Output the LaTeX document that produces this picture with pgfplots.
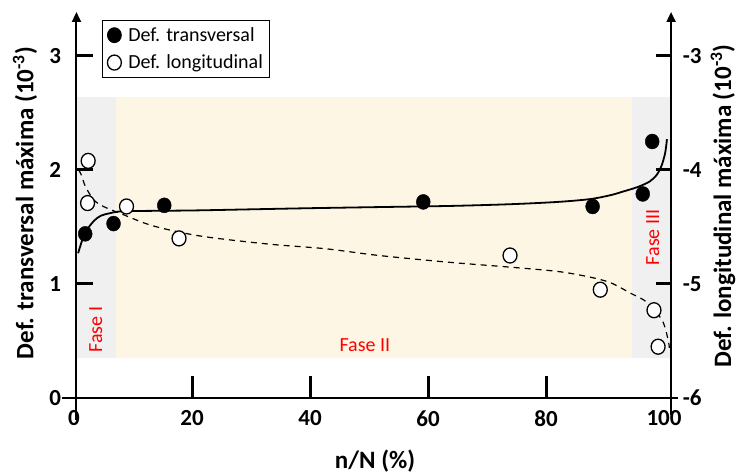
\documentclass[border=0pt]{standalone}
\usepackage{fontspec}
\setmainfont{Carlito}
\usepackage{pgfplots}
\pgfplotsset{compat=1.18}
\usetikzlibrary{arrows.meta}
\definecolor{bggray}{RGB}{240,240,240}
\definecolor{bgyel}{RGB}{253,246,228}
\definecolor{fasered}{RGB}{255,0,0}
\begin{document}
\begin{tikzpicture}[x=1pt,y=1pt]
\useasboundingbox (0,0) rectangle (739,474);
\begin{axis}[
  at={(62.2pt,64.6pt)}, anchor=south west,
  width=619.5pt, height=404.7pt, scale only axis,
  xmin=-2, xmax=103, ymin=-0.1, ymax=3.45,
  clip=false,
  axis line style={draw=none}, tick style={draw=none}, major tick length=0pt,
  xtick={0,20,40,60,80,100}, xticklabels={0,20,40,60,80,100},
  ytick={0,1,2,3}, yticklabels={0,1,2,3},
  tick label style={font=\fontsize{23}{23}\selectfont\bfseries, inner sep=1pt},
  legend style={at={(axis cs:4.75,3.315)}, anchor=north west, draw=black, line width=0.8pt,
     fill=white, font=\fontsize{20}{24}\selectfont, inner xsep=5pt, inner ysep=5.5pt,
     nodes={inner xsep=1pt, inner ysep=1.5pt}, row sep=9pt, column sep=6pt},
  legend cell align=left,
  legend image code/.code={\draw[#1] plot coordinates {(0pt,0pt)};},
]
% background phases
\addplot[draw=none, fill=bggray, forget plot] coordinates {(0.42,0.35) (7.1,0.35) (7.1,2.64) (0.42,2.64) (0.42,0.35)};
\addplot[draw=none, fill=bgyel, forget plot] coordinates {(7.1,0.35) (94.6,0.35) (94.6,2.64) (7.1,2.64) (7.1,0.35)};
\addplot[draw=none, fill=bggray, forget plot] coordinates {(94.6,0.35) (101.2,0.35) (101.2,2.64) (94.6,2.64) (94.6,0.35)};
% axis lines
\draw[line width=2pt, -{Triangle[length=10pt,width=9pt]}] (axis cs:0.42,-0.19) -- (axis cs:0.42,3.386);
\draw[line width=2pt, -{Triangle[length=10pt,width=9pt]}] (axis cs:101.2,-0.15) -- (axis cs:101.2,3.386);
\draw[line width=2pt] (axis cs:-2,0) -- (axis cs:102.4,0);
% ticks
\draw[line width=3pt] (axis cs:0.42,1) -- (axis cs:3.3,1);
\draw[line width=3pt] (axis cs:0.42,2) -- (axis cs:3.3,2);
\draw[line width=3pt] (axis cs:0.42,3) -- (axis cs:3.3,3);
\draw[line width=3pt] (axis cs:101.2,1) -- (axis cs:98.7,1);
\draw[line width=3pt] (axis cs:101.2,2) -- (axis cs:98.7,2);
\draw[line width=3pt] (axis cs:101.2,3) -- (axis cs:98.7,3);
\draw[line width=3pt] (axis cs:20,0) -- (axis cs:20,0.19);
\draw[line width=3pt] (axis cs:40,0) -- (axis cs:40,0.19);
\draw[line width=3pt] (axis cs:60,0) -- (axis cs:60,0.19);
\draw[line width=3pt] (axis cs:80,0) -- (axis cs:80,0.19);
% phase labels
\node[text=fasered, rotate=90, font=\fontsize{20}{20}\selectfont] at (axis cs:3.7,0.6) {Fase I};
\node[text=fasered, font=\fontsize{20}{20}\selectfont] at (axis cs:49.3,0.46) {Fase II};
\node[text=fasered, rotate=90, font=\fontsize{20}{20}\selectfont] at (axis cs:98.1,1.41) {Fase III};
% transversal fit
\addplot[black, line width=1.8pt, smooth, tension=0.5, forget plot] coordinates {
 (0.7,1.27) (1.5,1.40) (2.4,1.49) (3.5,1.56) (4.6,1.60) (6,1.62) (7.5,1.635) (10,1.64)
 (20,1.645) (30,1.655) (40,1.665) (52,1.675) (64,1.685) (74,1.70) (82,1.72) (87.5,1.745)
 (91,1.78) (93,1.81) (95.5,1.85) (97.6,1.90) (98.8,1.96) (99.6,2.04) (100.2,2.15) (100.5,2.27)};
% transversal points
\addplot[only marks, mark=*, mark size=7.5pt, mark options={xscale=0.93, fill=black, draw=black}] coordinates {
 (1.9,1.44) (6.7,1.53) (15.3,1.69) (59.2,1.72) (87.9,1.68) (96.4,1.79) (98,2.25)};
\addlegendentry{Def. transversal}
\addlegendimage{only marks, mark=*, mark size=7.5pt, mark options={xscale=0.93, fill=white, draw=black, line width=1.3pt}}
\addlegendentry{Def. longitudinal}
\end{axis}
\begin{axis}[
  at={(62.2pt,64.6pt)}, anchor=south west,
  width=619.5pt, height=404.7pt, scale only axis,
  xmin=-2, xmax=103, ymin=-6.1, ymax=-2.55,
  clip=false,
  axis line style={draw=none}, tick style={draw=none}, major tick length=0pt,
  xtick=\empty,
  ytick={-6,-5,-4,-3}, yticklabels={-6,-5,-4,-3}, yticklabel pos=right,
  tick label style={font=\fontsize{23}{23}\selectfont\bfseries, inner sep=1pt},
]
% longitudinal fit
\addplot[black, line width=1.2pt, dashed, dash pattern=on 6pt off 5pt, smooth, tension=0.5] coordinates {
 (0.8,-4.00) (1.3,-4.05) (1.9,-4.14) (3.3,-4.26) (5,-4.32) (7.8,-4.38) (13.4,-4.49) (21.5,-4.58)
 (33,-4.65) (42.5,-4.69) (51.7,-4.75) (63.7,-4.81) (73.4,-4.85) (82,-4.89) (87.5,-4.94) (91,-4.99)
 (94.3,-5.08) (97.1,-5.16) (99.7,-5.32) (100.7,-5.49) (100.9,-5.56)};
% longitudinal points
\addplot[only marks, mark=*, mark size=7.5pt, mark options={xscale=0.93, fill=white, draw=black, line width=1.3pt}] coordinates {
 (2.4,-3.92) (2.3,-4.29) (8.9,-4.32) (17.8,-4.60) (73.9,-4.75) (89.2,-5.05) (98.3,-5.23) (99,-5.55)};
\end{axis}
\node[rotate=90, font=\fontsize{25}{25}\selectfont\bfseries] at (25,271) {Def. transversal máxima (10\textsuperscript{-3})};
\node[rotate=90, font=\fontsize{25}{25}\selectfont\bfseries] at (723,268) {Def. longitudinal máxima (10\textsuperscript{-3})};
\node[font=\fontsize{25}{25}\selectfont\bfseries] at (375,13) {n/N (\%)};
\end{tikzpicture}
\end{document}
